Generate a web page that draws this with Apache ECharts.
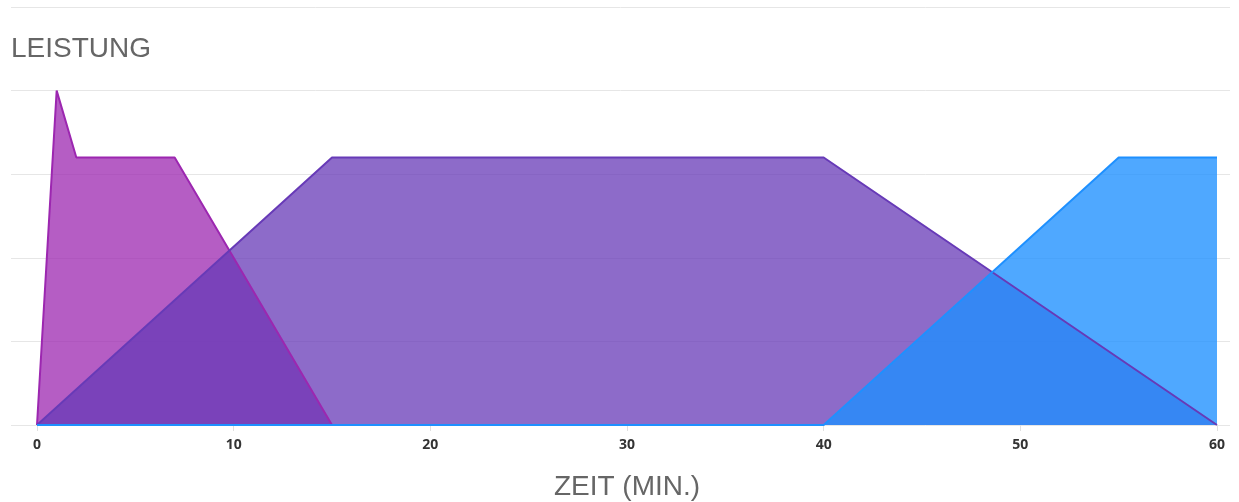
<!DOCTYPE html>
<html>
<head>
<meta charset="utf-8">
<script src="https://cdn.jsdelivr.net/npm/echarts@6/dist/echarts.min.js"></script>
<style>html,body{margin:0;padding:0;background:#fff}#c{width:1239px;height:502px}</style>
</head>
<body>
<div id="c"></div>
<script>
// Data
const seriesNames = ['Phase 1', 'Phase 2', 'Phase 3'];
const phase1 = [[0, 0], [1, 100], [2, 80], [7, 80], [15, 0]];
const phase2 = [[0, 0], [15, 80], [40, 80], [60, 0]];
const phase3 = [[0, 0], [40, 0], [55, 80], [60, 80]];
const xTicks = [0, 10, 20, 30, 40, 50, 60];
const titleText = 'LEISTUNG';
const xAxisName = 'ZEIT (MIN.)';

const colors = ['#9c27b0', '#673ab7', '#1e90ff'];
const chart = echarts.init(document.getElementById('c'), null, {renderer: 'canvas'});
const mk = (name, data, color, op) => ({
  name, type: 'line', data, xAxisIndex: 1, yAxisIndex: 1,
  showSymbol: false, symbol: 'none',
  lineStyle: {color, width: 2},
  itemStyle: {color},
  areaStyle: {color, opacity: op}
});
chart.setOption({
  animation: false,
  title: {text: titleText, left: 6, top: 30,
    textStyle: {fontFamily: 'Liberation Sans', fontSize: 28, fontWeight: 'normal', color: '#666'}},
  grid: [
    {left: 11, right: 9, top: 7, bottom: 77, containLabel: false, outerBoundsMode: 'none'},
    {left: 37, right: 22, top: 7, bottom: 77, containLabel: false, outerBoundsMode: 'none'}
  ],
  xAxis: [
    {gridIndex: 0, type: 'value', min: 0, max: 60, show: false},
    {gridIndex: 1, type: 'value', min: 0, max: 60, interval: 10,
      axisLine: {show: false},
      axisTick: {show: true, length: 6, lineStyle: {color: '#e0e0e0'}},
      splitLine: {show: false},
      axisLabel: {margin: 13, fontFamily: 'Open Sans', fontWeight: 'bold', fontSize: 14, color: '#333',
        formatter: v => xTicks.includes(v) ? String(v) : ''},
      name: xAxisName, nameLocation: 'middle', nameGap: 48,
      nameTextStyle: {fontFamily: 'Liberation Sans', fontSize: 28, color: '#666'}
    }
  ],
  yAxis: [
    {gridIndex: 0, type: 'value', min: 0, max: 125, interval: 25,
      axisLine: {show: false}, axisTick: {show: false}, axisLabel: {show: false},
      splitLine: {lineStyle: {color: '#e6e6e6', width: 1}}},
    {gridIndex: 1, type: 'value', min: 0, max: 125, interval: 25, show: false}
  ],
  series: [
    mk(seriesNames[0], phase1, colors[0], 0.75),
    mk(seriesNames[1], phase2, colors[1], 0.75),
    mk(seriesNames[2], phase3, colors[2], 0.78)
  ]
});
</script>
</body>
</html>
